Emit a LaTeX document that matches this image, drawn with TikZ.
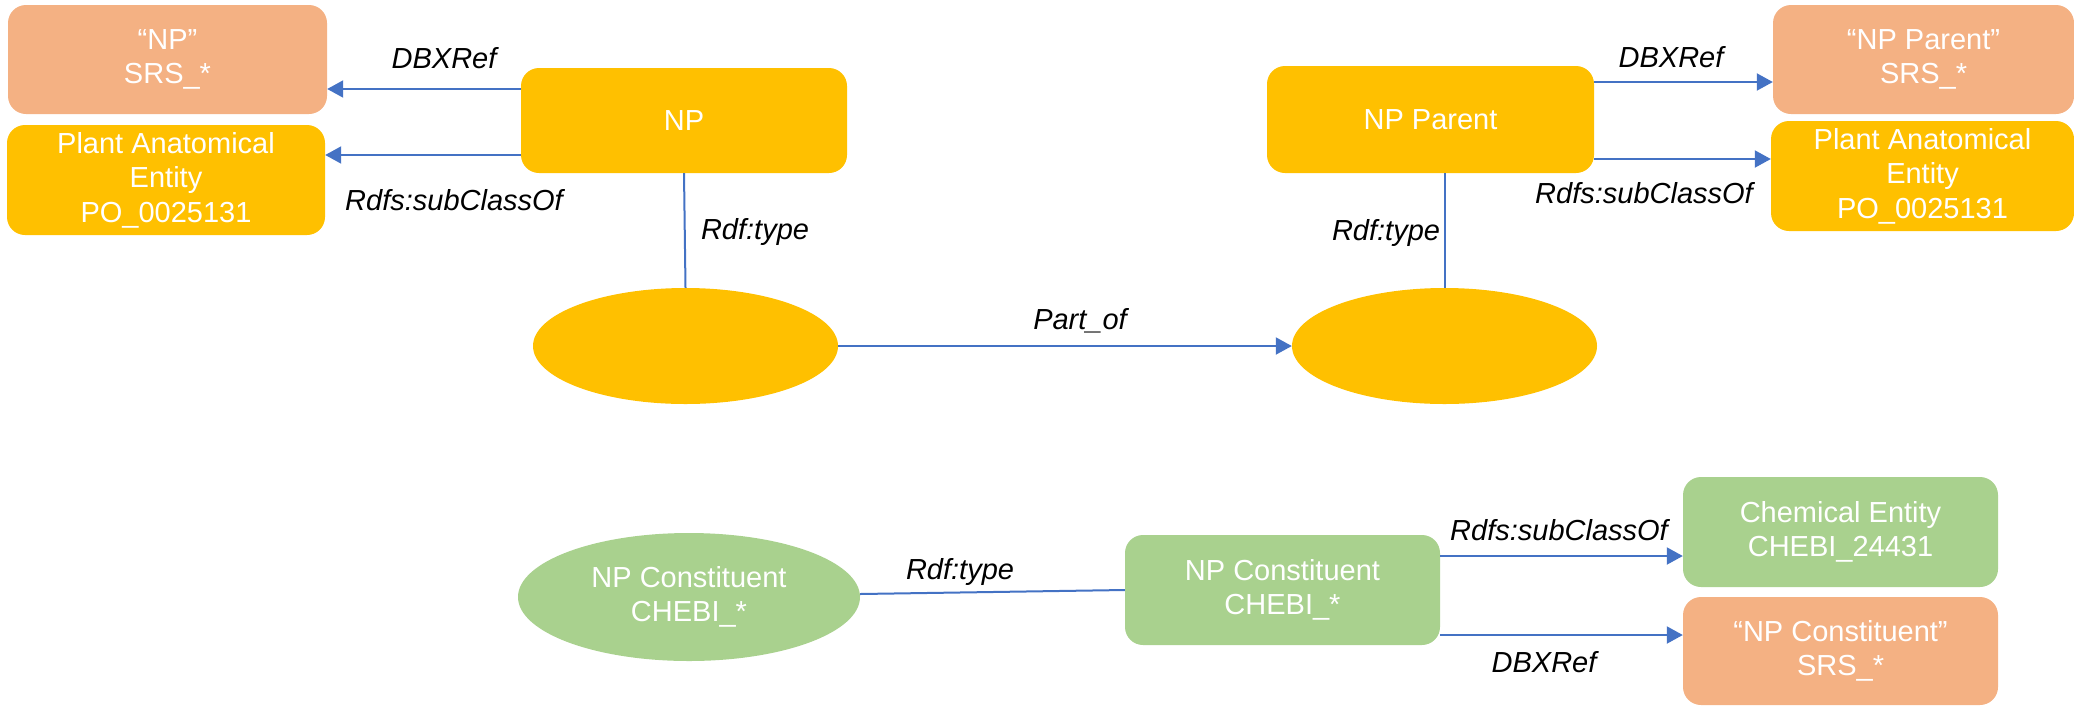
\documentclass[tikz,border=0pt]{standalone}
\usepackage{fontspec}
\setmainfont{Liberation Sans}
\usetikzlibrary{shapes.geometric,arrows.meta}
\definecolor{salmon}{HTML}{F4B183}
\definecolor{gold}{HTML}{FFC000}
\definecolor{leaf}{HTML}{A9D18E}
\definecolor{linkblue}{HTML}{4472C4}
\tikzset{
  box/.style={rectangle, rounded corners=18pt, draw=none, text=white, align=center,
    font=\fontsize{29}{34.5}\selectfont, inner sep=0pt},
  oval/.style={ellipse, draw=none, text=white, align=center,
    font=\fontsize{29}{34.5}\selectfont, inner sep=0pt},
  lbl/.style={font=\fontsize{29}{34.5}\selectfont\itshape, text=black, inner sep=0pt},
  arr/.style={draw=linkblue, line width=2pt, -{Triangle[length=16pt,width=17pt]}},
  lnk/.style={draw=linkblue, line width=2pt}
}
\begin{document}
\begin{tikzpicture}[x=1pt,y=-1pt]
\useasboundingbox (0,0) rectangle (2074,705);
% top-left
\node[box, fill=salmon, minimum width=319pt, minimum height=109pt] (srsNP) at (167.5,59.5) {“NP”\\SRS\_*};
\node[box, fill=gold, minimum width=318pt, minimum height=110pt] (paeL) at (166,180) {Plant Anatomical\\Entity\\PO\_0025131};
\node[box, fill=gold, minimum width=326pt, minimum height=105pt] (np) at (684,120.5) {NP};
\node[oval, fill=gold, minimum width=305pt, minimum height=116pt] (ellL) at (685.5,346) {};
% top-right
\node[box, fill=gold, minimum width=327pt, minimum height=107pt] (npp) at (1430.5,119.5) {NP Parent};
\node[oval, fill=gold, minimum width=305pt, minimum height=116pt] (ellR) at (1444.5,346) {};
\node[box, fill=salmon, minimum width=301pt, minimum height=109pt] (srsNPP) at (1923.5,59.5) {“NP Parent”\\SRS\_*};
\node[box, fill=gold, minimum width=303pt, minimum height=110pt] (paeR) at (1922.5,176) {Plant Anatomical\\Entity\\PO\_0025131};
% bottom
\node[oval, fill=leaf, minimum width=342pt, minimum height=128pt] (ncE) at (689,597) {NP Constituent\\CHEBI\_*};
\node[box, fill=leaf, minimum width=315pt, minimum height=110pt] (ncR) at (1282.5,590) {NP Constituent\\CHEBI\_*};
\node[box, fill=leaf, minimum width=315pt, minimum height=110pt] (chem) at (1840.5,532) {Chemical Entity\\CHEBI\_24431};
\node[box, fill=salmon, minimum width=315pt, minimum height=108pt] (srsC) at (1840.5,651) {“NP Constituent”\\SRS\_*};

% anchor points for horizontal connectors
\coordinate (a1) at ([yshift=31.5pt]np.west);
\coordinate (a2) at ([yshift=-34.5pt]np.west);
\coordinate (a3) at ([yshift=37.5pt]npp.east);
\coordinate (a4) at ([yshift=-39.5pt]npp.east);
\coordinate (a5) at ([yshift=3pt]ncE.east);
\coordinate (a6) at ([yshift=34pt]ncR.east);
\coordinate (a7) at ([yshift=-45pt]ncR.east);

% connectors top-left
\draw[arr] (a1) -- (srsNP.east |- a1);
\draw[arr] (a2) -- (paeL.east |- a2);
\draw[lnk] (np.south) -- (ellL.north);
\node[lbl] (l1) at (444,58) {DBXRef};
\node[lbl] (l2) at (454,200) {Rdfs:subClassOf};
\node[lbl] (l3) at (755,232) {Rdf:type};
% part of
\draw[arr] (ellL.east) -- (ellR.west);
\node[lbl] (l4) at (1080,321) {Part\_of};
% top-right
\draw[lnk] (ellR.north |- npp.south) -- (ellR.north);
\draw[arr] (a3) -- (srsNPP.west |- a3);
\draw[arr] (a4) -- (paeR.west |- a4);
\node[lbl] (l5) at (1386,233) {Rdf:type};
\node[lbl] (l6) at (1671,57) {DBXRef};
\node[lbl] (l7) at (1644,193) {Rdfs:subClassOf};
% bottom
\draw[lnk] (a5) -- (ncR.west);
\draw[arr] (a6) -- (chem.west |- a6);
\draw[arr] (a7) -- (srsC.west |- a7);
\node[lbl] (l8) at (960,572) {Rdf:type};
\node[lbl] (l9) at (1559,530) {Rdfs:subClassOf};
\node[lbl] (l10) at (1544,662) {DBXRef};
\end{tikzpicture}
\end{document}
